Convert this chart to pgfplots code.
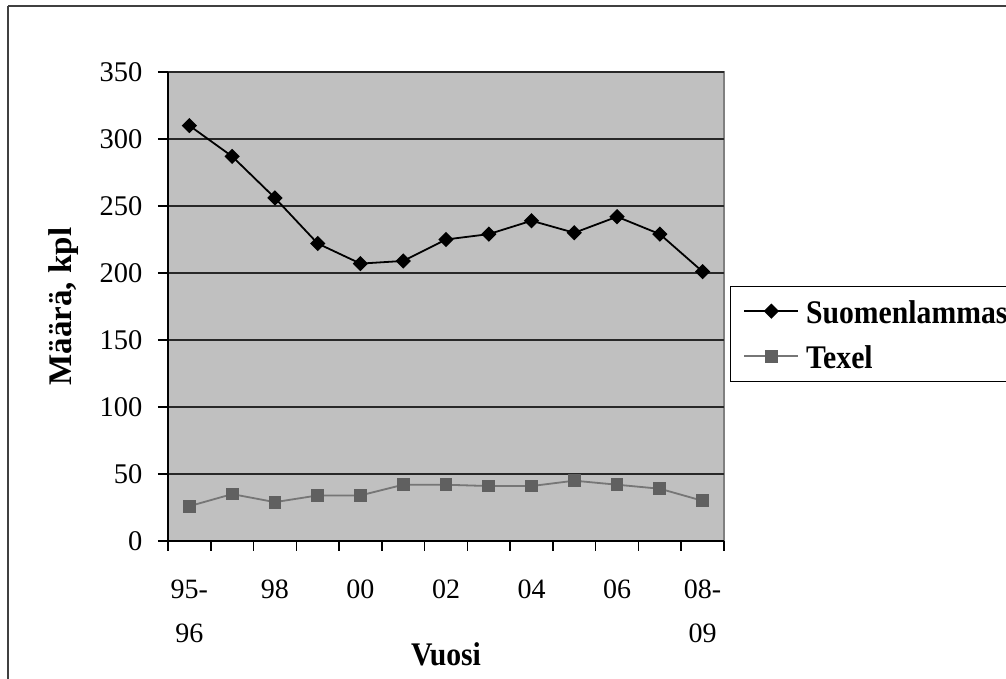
\documentclass[border=0pt]{standalone}
\usepackage{pgfplots}
\pgfplotsset{compat=1.18}
\usepackage{fontspec}
\setmainfont{Liberation Serif}
\definecolor{plotbg}{RGB}{192,192,192}
\definecolor{frame}{RGB}{128,128,128}
\definecolor{outer}{RGB}{64,64,64}
\definecolor{texline}{RGB}{118,118,118}
\definecolor{texmark}{RGB}{96,96,96}
\definecolor{gridc}{RGB}{40,40,40}
\begin{document}
\begin{tikzpicture}[x=1pt,y=1pt]
\useasboundingbox (0,0) rectangle (1006,679);
\clip (0,0) rectangle (1006,679);
\draw[line width=2pt, outer] (8,673) -- (1030,673);
\draw[line width=2pt, outer] (8,673) -- (8,-30);
\begin{axis}[
  at={(168pt,138pt)}, anchor=south west,
  width=556pt, height=469pt, scale only axis,
  xmin=-0.5, xmax=12.5, ymin=0, ymax=350,
  axis lines*=left,
  axis line style={-, line width=1.5pt, black},
  axis background/.style={fill=plotbg, draw=frame, line width=2pt},
  ytick={0,50,...,350},
  ymajorgrids, grid style={gridc, line width=1.3pt},
  xtick={0,2,...,12},
  xticklabels={{95-\\96},98,00,02,04,06,{08-\\09}},
  minor xtick={-0.5,0.5,...,12.5},
  tick align=outside,
  major tick length=10pt, minor tick length=10pt,
  major x tick style={draw=none},
  every tick/.style={black, line width=1.5pt},
  minor tick style={black, line width=1.5pt},
  xticklabel style={align=center, font=\fontsize{28}{44}\selectfont, yshift=-25pt},
  yticklabel style={font=\fontsize{28.5}{34}\selectfont, xshift=-12pt},
  /pgf/number format/assume math mode=true,
  xlabel={Vuosi}, ylabel={Määrä, kpl},
  xlabel style={font=\fontsize{33}{40}\selectfont\bfseries, at={(axis description cs:0.5,-0.2644)}, anchor=base, xscale=0.9},
  ylabel style={font=\fontsize{33}{40}\selectfont\bfseries, at={(axis description cs:-0.1727,0.5)}, anchor=base},
  legend cell align=left,
  legend style={at={(rel axis cs:1.0108,0.5444)}, anchor=north west,
    draw=black, line width=1pt, fill=white,
    inner xsep=13pt, inner ysep=7pt, row sep=9pt,
    nodes={text height=28pt, text depth=4pt, xscale=0.9},
    /tikz/every odd column/.append style={column sep=5pt},
    font=\fontsize{33}{40}\selectfont\bfseries},
  legend image code/.code={\draw[mark repeat=2,mark phase=2,#1] plot coordinates {(0pt,0pt) (27pt,0pt) (54pt,0pt)};},
]
\addplot[black, line width=1.8pt, mark=square*, mark size=4.5pt, mark options={rotate=45, fill=black, solid}]
 coordinates {(0,310) (1,287) (2,256) (3,222) (4,207) (5,209) (6,225) (7,229) (8,239) (9,230) (10,242) (11,229) (12,201)};
\addlegendentry{Suomenlammas}
\addplot[texline, line width=1.8pt, mark=square*, mark size=5.5pt, mark options={fill=texmark, draw=texmark, solid}]
 coordinates {(0,26) (1,35) (2,29) (3,34) (4,34) (5,42) (6,42) (7,41) (8,41) (9,45) (10,42) (11,39) (12,30)};
\addlegendentry{Texel}
\end{axis}
\end{tikzpicture}
\end{document}
